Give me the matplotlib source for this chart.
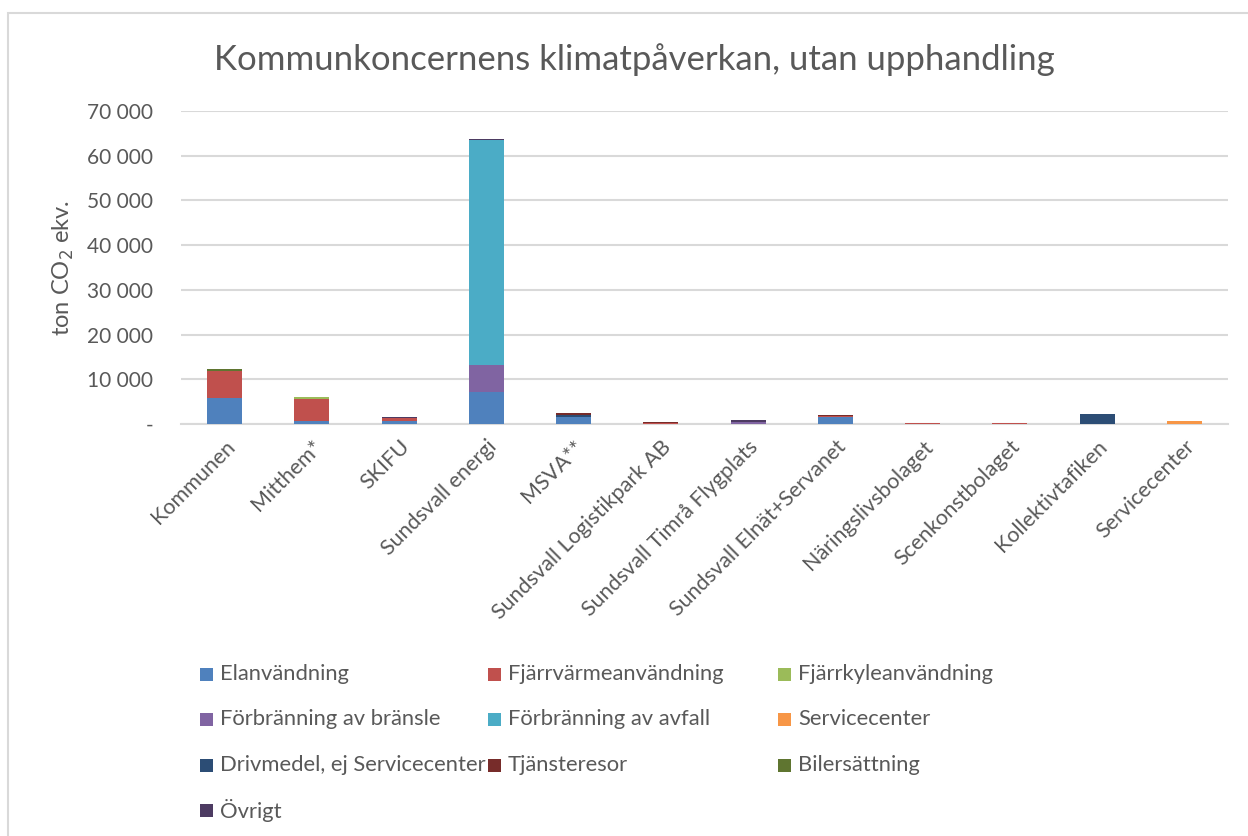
import matplotlib.pyplot as plt
from matplotlib.patches import Rectangle
from matplotlib.ticker import FuncFormatter
import numpy as np

plt.rcParams['font.family'] = ['Lato', 'DejaVu Sans']

categories = ['Kommunen', 'Mitthem*', 'SKIFU', 'Sundsvall energi', 'MSVA**',
              'Sundsvall Logistikpark AB', 'Sundsvall Timrå Flygplats',
              'Sundsvall Elnät+Servanet', 'Näringslivsbolaget', 'Scenkonstbolaget',
              'Kollektivtafiken', 'Servicecenter']

series_names = ['Elanvändning', 'Fjärrvärmeanvändning', 'Fjärrkyleanvändning',
                'Förbränning av bränsle', 'Förbränning av avfall', 'Servicecenter',
                'Drivmedel, ej Servicecenter', 'Tjänsteresor', 'Bilersättning', 'Övrigt']

elanvandning = [5750, 600, 600, 7250, 1550, 0, 100, 1500, 0, 0, 0, 0]
fjarrvarme = [6150, 5000, 700, 0, 0, 300, 0, 350, 150, 150, 0, 0]
fjarrkyla = [0, 400, 0, 0, 0, 0, 0, 0, 0, 0, 0, 0]
forbr_bransle = [0, 0, 0, 5950, 0, 0, 450, 0, 50, 50, 0, 0]
forbr_avfall = [0, 0, 0, 50300, 0, 0, 0, 0, 0, 0, 0, 0]
servicecenter = [0, 0, 0, 0, 0, 0, 0, 0, 0, 0, 0, 650]
drivmedel = [0, 0, 0, 0, 550, 0, 0, 0, 0, 0, 2150, 0]
tjansteresor = [0, 0, 0, 0, 350, 50, 0, 100, 0, 0, 0, 0]
bilersattning = [400, 0, 0, 0, 0, 0, 0, 0, 0, 0, 0, 0]
ovrigt = [0, 0, 250, 250, 0, 0, 400, 0, 0, 0, 0, 0]

colors = ['#4F81BD', '#C0504D', '#9BBB59', '#8064A2', '#4BACC6', '#F79646',
          '#2C4D75', '#772C2A', '#5F7530', '#4D3B62']

data = [elanvandning, fjarrvarme, fjarrkyla, forbr_bransle, forbr_avfall,
        servicecenter, drivmedel, tjansteresor, bilersattning, ovrigt]

W, H = 1248, 836
fig = plt.figure(figsize=(W / 100, H / 100), dpi=100)
fig.patches.append(Rectangle((7.5 / W, -0.1), 1.2, 1 - 13 / H + 0.1,
                             transform=fig.transFigure, fill=False,
                             edgecolor='#D9D9D9', linewidth=1.5))

ax = fig.add_axes([181 / W, 1 - 424 / H, (1228 - 181) / W, (424 - 111) / H])
x = np.arange(len(categories))
bottom = np.zeros(len(categories))
for vals, c in zip(data, colors):
    vals = np.array(vals, dtype=float)
    ax.bar(x, vals, 0.4, bottom=bottom, color=c, zorder=3)
    bottom += vals

ax.set_xlim(-0.5, len(categories) - 0.5)
ax.set_ylim(0, 70000)
ax.set_yticks(np.arange(0, 70001, 10000))
ax.yaxis.set_major_formatter(FuncFormatter(
    lambda v, p: '-' if v == 0 else f'{int(v):,}'.replace(',', ' ')))
ax.grid(axis='y', color='#D9D9D9', linewidth=1.5, zorder=0)
for s in ['top', 'right', 'left']:
    ax.spines[s].set_visible(False)
ax.spines['bottom'].set_color('#D9D9D9')
ax.spines['bottom'].set_linewidth(1.5)
ax.tick_params(axis='both', length=0, labelcolor='#595959')
ax.tick_params(axis='y', pad=20, labelsize=15)
ax.set_xticks(x)
ax.set_xticklabels(categories, rotation=45, ha='right', rotation_mode='anchor')
ax.tick_params(axis='x', pad=9, labelsize=15.5)
ax.set_ylabel('ton CO$_2$ ekv.', fontsize=17, color='#595959', labelpad=8)

fig.text(0.508, 1 - 60 / H, 'Kommunkoncernens klimatpåverkan, utan upphandling',
         ha='center', va='center', fontsize=25, color='#595959')

# legend, laid out like the Excel one
col_x = [200, 488, 778]
row_y = [674, 719, 765, 810]
for i, (name, c) in enumerate(zip(series_names, colors)):
    r, k = divmod(i, 3)
    fig.patches.append(Rectangle(((col_x[k]) / W, 1 - (row_y[r] + 6.5) / H),
                                 13 / W, 13 / H, transform=fig.transFigure,
                                 facecolor=c, edgecolor='none'))
    fig.text((col_x[k] + 20) / W, 1 - row_y[r] / H, name, ha='left', va='center',
             fontsize=15.8, color='#595959')

fig.savefig('out.png', dpi=100)
